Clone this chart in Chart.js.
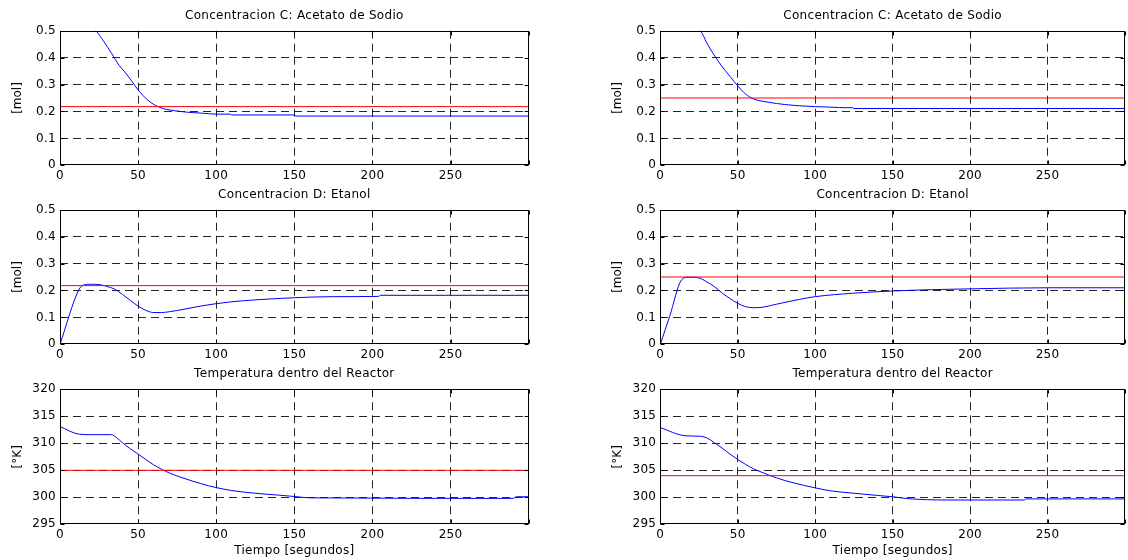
<!DOCTYPE html>
<html>
<head>
<meta charset="utf-8">
<script src="https://cdn.jsdelivr.net/npm/chart.js"></script>
<style>
  html, body { margin: 0; padding: 0; background: #fff; }
  #fig { position: relative; width: 1128px; height: 560px; overflow: hidden; background: #fff; }
  #fig canvas { position: absolute; left: 0; top: 0; }
</style>
</head>
<body>
<div id="fig"></div>
<script>
// ---- data ----
const horizon = [0, 300];
const xTicksStep = 50;

// left column
const tC_left = [0, 2, 12, 23, 28, 33, 38, 41, 45, 50, 53, 56, 60, 64, 68, 73, 80, 90, 100, 109, 110, 150, 151, 200, 300];
const C_left  = [0.5, 0.53, 0.56, 0.5, 0.46, 0.416, 0.37, 0.35, 0.32, 0.28, 0.26, 0.243, 0.226, 0.215, 0.208, 0.203, 0.198, 0.194, 0.19, 0.19, 0.187, 0.187, 0.183, 0.183, 0.183];
const spC_left = 0.218;

const tD_left = [0, 12, 15, 20, 25, 30, 35, 40, 45, 50, 55, 60, 65, 70, 80, 90, 100, 110, 125, 150, 175, 204, 205, 300];
const D_left  = [0, 0.202, 0.22, 0.223, 0.222, 0.215, 0.205, 0.185, 0.163, 0.142, 0.126, 0.118, 0.118, 0.121, 0.131, 0.142, 0.151, 0.158, 0.165, 0.173, 0.177, 0.178, 0.182, 0.182];
const spD_left = 0.218;

const tT_left = [0, 12, 20, 33, 36, 40, 45, 50, 55, 60, 65, 70, 75, 80, 90, 100, 110, 125, 140, 150, 160, 290, 292, 300];
const T_left  = [313.1, 311.7, 311.6, 311.6, 311.1, 310.1, 309.0, 308.0, 307.0, 306.0, 305.2, 304.5, 303.95, 303.45, 302.55, 301.8, 301.25, 300.75, 300.4, 300.15, 299.9, 299.8, 300.1, 300.1];
const spT_left = 305;

// right column
const tC_right = [0, 2, 13, 26, 30, 34, 40, 45, 50, 55, 60, 65, 70, 80, 90, 100, 110, 120, 124, 125, 300];
const C_right  = [0.5, 0.53, 0.56, 0.5, 0.455, 0.416, 0.366, 0.33, 0.295, 0.265, 0.247, 0.239, 0.234, 0.226, 0.221, 0.218, 0.216, 0.214, 0.214, 0.211, 0.211];
const spC_right = 0.25;

const tD_right = [0, 6, 13.7, 18, 22, 26.6, 30, 35, 40, 45, 50, 55, 60, 65, 75, 90, 100, 125, 150, 175, 200, 250, 300];
const D_right  = [0, 0.103, 0.239, 0.249, 0.249, 0.243, 0.232, 0.214, 0.19, 0.17, 0.152, 0.14, 0.136, 0.137, 0.149, 0.167, 0.177, 0.19, 0.198, 0.203, 0.206, 0.21, 0.21];
const spD_right = 0.25;

const tT_right = [0, 16, 26, 30, 35, 40, 45, 50, 55, 60, 65, 75, 85, 100, 110, 125, 140, 150, 160, 185, 235, 236, 300];
const T_right  = [312.9, 311.4, 311.3, 311.0, 310.1, 309.1, 308.0, 307.0, 306.1, 305.3, 304.7, 303.6, 302.75, 301.75, 301.2, 300.75, 300.35, 300.1, 299.75, 299.5, 299.5, 299.7, 299.7];
const spT_right = 304;

// ---- layout / style ----
const W = 1128, H = 560;
const FONT = '"DejaVu Sans", "Liberation Sans", Arial, sans-serif';
const FONT_SIZE = 12;
const SPACING = '0.3px';
const Y_AXIS_W = 40, X_AXIS_H = 20;
const GRID = 'rgba(0,0,0,0.85)';

const colX = { left: [60, 528.7], right: [660.3, 1127.7] };
const rowY = { top: [30.7, 165.3], mid: [209.7, 344.3], bot: [389.3, 524.3] };

const fig = document.getElementById('fig');

const framePlugin = {
  id: 'frame',
  beforeUpdate(chart) { chart.ctx.letterSpacing = SPACING; },
  beforeDraw(chart) { chart.ctx.letterSpacing = SPACING; },
  afterDraw(chart, args, opts) {
    const { ctx, chartArea: a, scales } = chart;
    const L = Math.round(a.left) + 0.5, R = Math.round(a.right) - 0.5;
    const T = Math.round(a.top) + 0.5, B = Math.round(a.bottom) - 0.5;
    ctx.save();
    ctx.strokeStyle = '#000';
    ctx.lineWidth = 1;
    ctx.setLineDash([]);
    ctx.strokeRect(L, T, R - L, B - T);
    // MATLAB-style inward tick marks
    ctx.beginPath();
    scales.x.ticks.forEach(t => {
      const px = Math.round(scales.x.getPixelForValue(t.value)) + 0.5;
      ctx.moveTo(px, B); ctx.lineTo(px, B - 4);
      ctx.moveTo(px, T); ctx.lineTo(px, T + 4);
    });
    scales.y.ticks.forEach(t => {
      const py = Math.round(scales.y.getPixelForValue(t.value)) + 0.5;
      ctx.moveTo(L, py); ctx.lineTo(L + 4, py);
      ctx.moveTo(R, py); ctx.lineTo(R - 4, py);
    });
    ctx.stroke();

    ctx.fillStyle = '#000';
    ctx.font = FONT_SIZE + 'px ' + FONT;
    ctx.letterSpacing = SPACING;
    ctx.textAlign = 'center';
    ctx.textBaseline = 'middle';
    ctx.fillText(opts.title, (a.left + a.right) / 2, a.top - 15);
    if (opts.xlabel) ctx.fillText(opts.xlabel, (a.left + a.right) / 2, a.bottom + 27);
    ctx.letterSpacing = '0px';
    ctx.translate(a.left - 42, (a.top + a.bottom) / 2);
    ctx.rotate(-Math.PI / 2);
    ctx.fillText(opts.ylabel, 0, 0);
    ctx.restore();
  }
};

function gridColor(c) {
  const v = c.tick ? c.tick.value : null;
  if (v === null) return GRID;
  const s = c.scale;
  return (Math.abs(v - s.min) < 1e-9 || Math.abs(v - s.max) < 1e-9) ? 'rgba(0,0,0,0)' : GRID;
}

function makePlot(cfg) {
  const canvas = document.createElement('canvas');
  canvas.width = W; canvas.height = H;
  canvas.style.width = W + 'px'; canvas.style.height = H + 'px';
  fig.appendChild(canvas);
  const [l, r] = colX[cfg.col];
  const [t, b] = rowY[cfg.row];

  new Chart(canvas, {
    type: 'line',
    data: {
      datasets: [
        {
          data: horizon.map(x => ({ x, y: cfg.setpoint })),
          borderColor: '#ff0000', borderWidth: 1, pointRadius: 0, fill: false
        },
        {
          data: cfg.time.map((x, i) => ({ x, y: cfg.values[i] })),
          borderColor: '#0000ff', borderWidth: 1, pointRadius: 0, fill: false,
          cubicInterpolationMode: 'monotone'
        }
      ]
    },
    options: {
      responsive: false,
      animation: false,
      events: [],
      layout: { padding: { left: l - Y_AXIS_W, top: t, right: W - r, bottom: H - b - X_AXIS_H } },
      plugins: {
        legend: { display: false },
        tooltip: { enabled: false },
        frame: { title: cfg.title, ylabel: cfg.ylabel, xlabel: cfg.xlabel }
      },
      scales: {
        x: {
          type: 'linear', min: 0, max: 300,
          afterFit: s => { s.height = X_AXIS_H; },
          ticks: {
            stepSize: xTicksStep, color: '#000', padding: 3, maxRotation: 0,
            font: { family: FONT, size: FONT_SIZE },
            callback: v => (v >= 300 ? '' : String(v))
          },
          grid: { color: gridColor, lineWidth: 1, drawTicks: false },
          border: { display: false, dash: [8, 5] }
        },
        y: {
          type: 'linear', min: cfg.ymin, max: cfg.ymax,
          afterFit: s => { s.width = Y_AXIS_W; },
          ticks: {
            stepSize: cfg.ystep, color: '#000', padding: 4,
            font: { family: FONT, size: FONT_SIZE },
            callback: v => (Math.abs(v) < 1e-9 ? '0' : String(+v.toFixed(2)))
          },
          grid: { color: gridColor, lineWidth: 1, drawTicks: false },
          border: { display: false, dash: [8, 5] }
        }
      }
    },
    plugins: [framePlugin]
  });
}

const titleC = 'Concentracion C: Acetato de Sodio';
const titleD = 'Concentracion D: Etanol';
const titleT = 'Temperatura dentro del Reactor';
const xLabel = 'Tiempo [segundos]';

makePlot({ col: 'left', row: 'top', title: titleC, ylabel: '[mol]', ymin: 0, ymax: 0.5, ystep: 0.1, time: tC_left, values: C_left, setpoint: spC_left });
makePlot({ col: 'left', row: 'mid', title: titleD, ylabel: '[mol]', ymin: 0, ymax: 0.5, ystep: 0.1, time: tD_left, values: D_left, setpoint: spD_left });
makePlot({ col: 'left', row: 'bot', title: titleT, ylabel: '[°K]', xlabel: xLabel, ymin: 295, ymax: 320, ystep: 5, time: tT_left, values: T_left, setpoint: spT_left });
makePlot({ col: 'right', row: 'top', title: titleC, ylabel: '[mol]', ymin: 0, ymax: 0.5, ystep: 0.1, time: tC_right, values: C_right, setpoint: spC_right });
makePlot({ col: 'right', row: 'mid', title: titleD, ylabel: '[mol]', ymin: 0, ymax: 0.5, ystep: 0.1, time: tD_right, values: D_right, setpoint: spD_right });
makePlot({ col: 'right', row: 'bot', title: titleT, ylabel: '[°K]', xlabel: xLabel, ymin: 295, ymax: 320, ystep: 5, time: tT_right, values: T_right, setpoint: spT_right });
</script>
</body>
</html>
